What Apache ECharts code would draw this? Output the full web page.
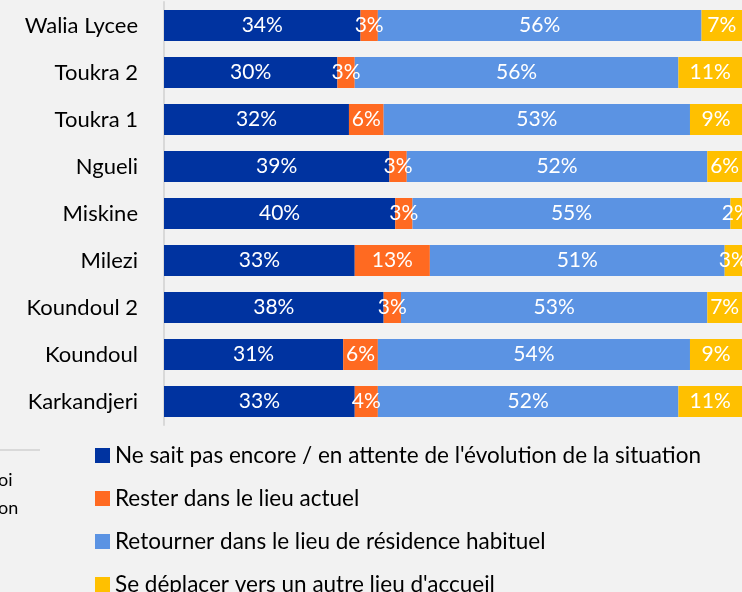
<!DOCTYPE html>
<html>
<head>
    <meta charset="UTF-8">
    <title>Intentions de déplacement par site</title>
    <script src="https://cdn.jsdelivr.net/npm/echarts@6/dist/echarts.min.js"></script>
    <style>
        html, body { margin: 0; padding: 0; background: #f2f2f2; }
    </style>
</head>
<body>
<div id="chart" style="width: 742px;height:592px;"></div>

<script type="text/javascript">
    // sites, du bas vers le haut (ordre de l'axe des categories)
    var sites = ['Karkandjeri', 'Koundoul', 'Koundoul 2', 'Milezi', 'Miskine', 'Ngueli', 'Toukra 1', 'Toukra 2', 'Walia Lycee'];

    var nsp = [33, 31, 38, 33, 40, 39, 32, 30, 34];
    var rester = [4, 6, 3, 13, 3, 3, 6, 3, 3];
    var retourner = [52, 54, 53, 51, 55, 52, 53, 56, 56];
    var deplacer = [11, 9, 7, 3, 2, 6, 9, 11, 7];

    var noms = [
        "Ne sait pas encore / en attente de l'évolution de la situation",
        'Rester dans le lieu actuel',
        'Retourner dans le lieu de résidence habituel',
        "Se déplacer vers un autre lieu d'accueil"
    ];
    var couleurs = ['#0033a0', '#ff6a21', '#5b93e3', '#ffc000'];
    var valeurs = [nsp, rester, retourner, deplacer];

    var police = 'Lato';

    var chart = echarts.init(document.getElementById('chart'));

    var series = valeurs.map(function (v, i) {
        return {
            name: noms[i],
            type: 'bar',
            stack: 'total',
            barWidth: 31,
            data: v,
            itemStyle: { color: couleurs[i] },
            label: {
                show: true,
                position: 'inside',
                color: '#fff',
                fontFamily: police,
                fontSize: 21,
                formatter: '{c}%'
            }
        };
    });

    var option = {
        backgroundColor: '#f2f2f2',
        animation: false,
        grid: { left: 164, right: -4, top: 2, bottom: 167 },
        legend: {
            orient: 'vertical',
            left: 90,
            top: 439,
            height: 200,
            icon: 'rect',
            itemWidth: 15,
            itemHeight: 15,
            itemGap: 20,
            textStyle: { fontFamily: police, fontSize: 22.5, color: '#000' },
            data: noms
        },
        xAxis: {
            type: 'value',
            min: 0,
            max: 100,
            show: false
        },
        yAxis: {
            type: 'category',
            data: sites,
            axisLine: { show: true, lineStyle: { color: '#d9d9d9', width: 2 } },
            axisTick: { show: false },
            axisLabel: { fontFamily: police, fontSize: 22, color: '#000', margin: 26 }
        },
        graphic: [
            { type: 'line', shape: { x1: 0, y1: 450, x2: 40, y2: 450 }, style: { stroke: '#d9d9d9', lineWidth: 2 } },
            { type: 'text', left: -2, top: 471, style: { text: 'oi', fontFamily: police, fontSize: 18, fill: '#000' } },
            { type: 'text', left: -2, top: 499, style: { text: 'on', fontFamily: police, fontSize: 18, fill: '#000' } }
        ],
        series: series
    };

    chart.setOption(option);
</script>
</body>
</html>
